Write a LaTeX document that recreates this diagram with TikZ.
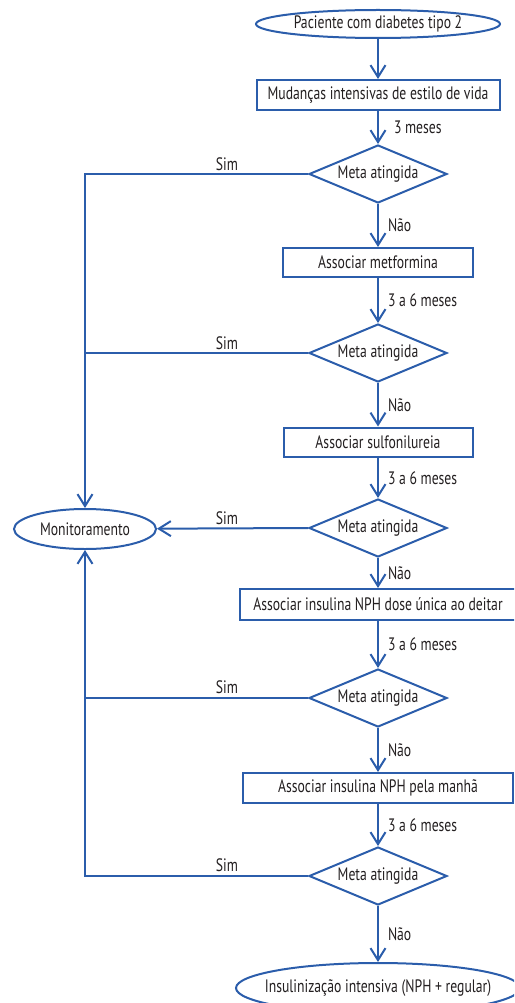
\documentclass[tikz,border=0pt]{standalone}
\usepackage{fontspec}
\setmainfont[FakeStretch=0.76]{PT Sans}
\usetikzlibrary{shapes.geometric,arrows.meta}
\definecolor{flowblue}{HTML}{2B5DAB}
\definecolor{ink}{HTML}{231F20}
\begin{document}
\begin{tikzpicture}[x=1pt,y=-1pt,
  every node/.style={text=ink,font=\fontsize{18}{20}\selectfont},
  base/.style={draw=flowblue,line width=2pt,inner sep=0pt},
  term/.style={base,ellipse},
  proc/.style={base,rectangle},
  decis/.style={base,diamond,aspect=2.4,minimum width=138pt,minimum height=58pt},
  link/.style={draw=flowblue,line width=2pt},
  arr/.style={link,-{Straight Barb[length=12pt,width=15pt]}},
  lab/.style={inner sep=0pt},
  sidelab/.style={lab,right,xshift=9pt}]
\useasboundingbox (0,0) rectangle (514,1003);
\clip (0,0) rectangle (514,1003);

% main column
\node[term,minimum width=244pt,minimum height=28pt] (start) at (378,24) {Paciente com diabetes tipo 2};
\node[proc,minimum width=243pt,minimum height=30pt] (b1) at (378,95) {Mudanças intensivas de estilo de vida};
\node[decis] (d1) at (378,174) {Meta atingida};
\node[proc,minimum width=190pt,minimum height=29pt] (b2) at (378,262.5) {Associar metformina};
\node[decis] (d2) at (378,353) {Meta atingida};
\node[proc,minimum width=189pt,minimum height=29pt] (b3) at (378,442) {Associar sulfonilureia};
\node[decis] (d3) at (378,528) {Meta atingida};
\node[proc,minimum width=276pt,minimum height=31pt] (b4) at (378,604.5) {Associar insulina NPH dose única ao deitar};
\node[decis] (d4) at (378,698) {Meta atingida};
\node[proc,minimum width=270pt,minimum height=30pt] (b5) at (378,788) {Associar insulina NPH pela manhã};
\node[decis] (d5) at (378,876) {Meta atingida};
\node[term,inner xsep=-17pt,minimum width=284pt,minimum height=50pt] (end) at (378,988) {Insulinização intensiva (NPH + regular)};

% monitoring branch
\node[term,minimum width=142pt,minimum height=40pt] (mon) at (85,529) {Monitoramento};
\coordinate (c1) at (85,174);
\coordinate (j2) at (85,353);
\coordinate (j4) at (85,698);
\coordinate (c5) at (85,876);

% downward flow
\draw[arr] (start) -- (b1);
\draw[arr] (b1) -- node[sidelab,xshift=6pt] {3 meses} (d1);
\draw[arr] (d1) -- node[sidelab] {Não} (b2);
\draw[arr] (b2) -- node[sidelab] {3 a 6 meses} (d2);
\draw[arr] (d2) -- node[sidelab] {Não} (b3);
\draw[arr] (b3) -- node[sidelab] {3 a 6 meses} (d3);
\draw[arr] (d3) -- node[sidelab] {Não} (b4);
\draw[arr] (b4) -- node[sidelab] {3 a 6 meses} (d4);
\draw[arr] (d4) -- node[sidelab] {Não} (b5);
\draw[arr] (b5) -- node[sidelab] {3 a 6 meses} (d5);
\draw[arr] (d5) -- node[sidelab] {Não} (end);

% "Sim" branches to monitoring
\draw[arr] (d1.west) -- (c1) -- (mon);
\draw[link] (d2.west) -- (j2);
\draw[arr] (d3.west) -- (mon);
\draw[link] (d4.west) -- (j4);
\draw[arr] (d5.west) -- (c5) -- (mon);

\node[lab] (s1) at (227,164) {Sim};
\node[lab] (s2) at (227,343) {Sim};
\node[lab] (s3) at (227,518) {Sim};
\node[lab] (s4) at (227,687) {Sim};
\node[lab] (s5) at (227,865) {Sim};
\end{tikzpicture}
\end{document}
